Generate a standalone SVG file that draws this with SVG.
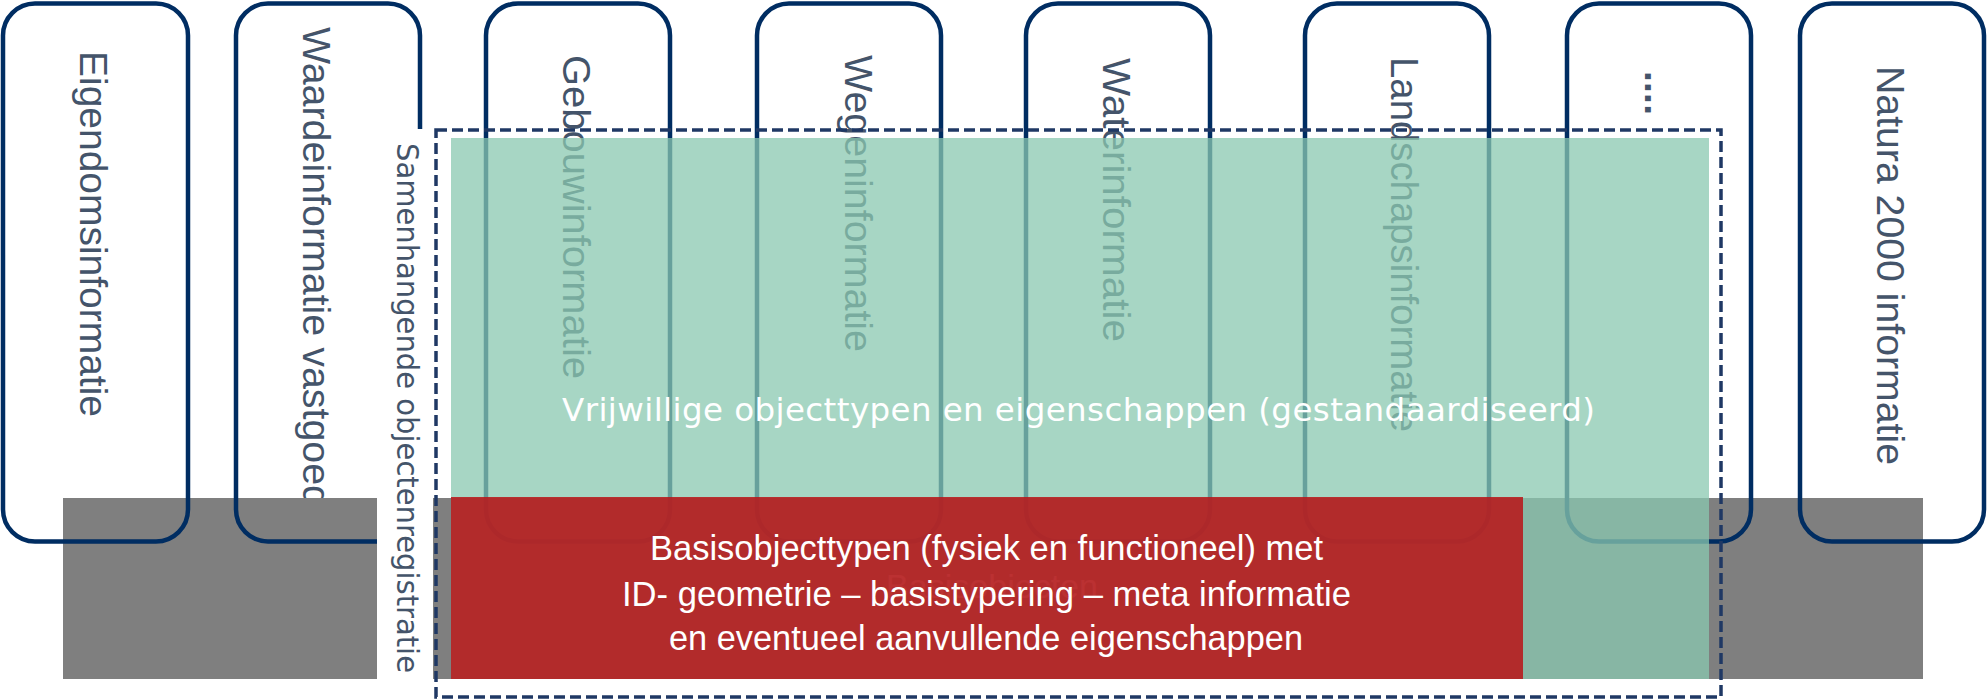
<svg xmlns="http://www.w3.org/2000/svg" width="1987" height="700" viewBox="0 0 1987 700">
  <style>
    .box { fill: none; stroke: #002d62; stroke-width: 4.5; }
    .lbl { font-family: "Liberation Sans", Arial, sans-serif; font-size: 39px; fill: #44546a; }
    .side { font-family: "DejaVu Sans", Verdana, sans-serif; font-size: 29.5px; fill: #44546a; }
    .green-t { font-family: "DejaVu Sans", Verdana, sans-serif; font-size: 32.5px; fill: #ffffff; }
    .red-t { font-family: "Liberation Sans", Arial, sans-serif; font-size: 34.5px; fill: #ffffff; }
    .faint { font-family: "Liberation Sans", Arial, sans-serif; font-size: 33px; fill: #ffffff; fill-opacity: 0.5; }
  </style>
  <defs>
    <clipPath id="clipBox2">
      <rect x="230" y="0" width="200" height="498"/>
    </clipPath>
  </defs>
  <rect width="1987" height="700" fill="#ffffff"/>

  <g id="basis-grey">
    <rect x="63" y="498" width="1860" height="181" fill="#7f7f7f"/>
  </g>

  <g id="node-eigendom">
    <rect class="box" x="3" y="3.5" width="185" height="538" rx="32"/>
    <text class="lbl" transform="translate(80,51) rotate(90)" textLength="366" lengthAdjust="spacingAndGlyphs">Eigendomsinformatie</text>
  </g>
  <g id="node-waarde">
    <rect class="box" x="236" y="3.5" width="184" height="538" rx="32"/>
    <g clip-path="url(#clipBox2)">
      <text class="lbl" transform="translate(303,27) rotate(90)" textLength="480" lengthAdjust="spacingAndGlyphs">Waardeinformatie vastgoed</text>
    </g>
  </g>
  <g id="node-gebouw">
    <rect class="box" x="486" y="3.5" width="184" height="538" rx="32"/>
    <text class="lbl" transform="translate(563,55) rotate(90)" textLength="324" lengthAdjust="spacingAndGlyphs">Gebouwinformatie</text>
  </g>
  <g id="node-wegen">
    <rect class="box" x="757" y="3.5" width="184" height="538" rx="32"/>
    <text class="lbl" transform="translate(845,55) rotate(90)" textLength="297" lengthAdjust="spacingAndGlyphs">Wegeninformatie</text>
  </g>
  <g id="node-water">
    <rect class="box" x="1026" y="3.5" width="184" height="538" rx="32"/>
    <text class="lbl" transform="translate(1103,58) rotate(90)" textLength="284" lengthAdjust="spacingAndGlyphs">Waterinformatie</text>
  </g>
  <g id="node-landschap">
    <rect class="box" x="1305" y="3.5" width="184" height="538" rx="32"/>
    <text class="lbl" transform="translate(1391,57) rotate(90)" textLength="375" lengthAdjust="spacingAndGlyphs">Landschapsinformatie</text>
  </g>
  <g id="node-more">
    <rect class="box" x="1567" y="3.5" width="184" height="538" rx="32"/>
    <text class="lbl" font-weight="bold" transform="translate(1645,71) rotate(90)" textLength="44" lengthAdjust="spacing">....</text>
  </g>
  <g id="node-natura">
    <rect class="box" x="1800" y="3.5" width="184" height="538" rx="32"/>
    <text class="lbl" transform="translate(1877,66) rotate(90)" textLength="399" lengthAdjust="spacingAndGlyphs">Natura 2000 informatie</text>
  </g>

  <g id="label-samenhangend">
    <rect x="377" y="129" width="56" height="571" fill="#ffffff"/>
    <text class="side" transform="translate(397,143) rotate(90)" textLength="530" lengthAdjust="spacingAndGlyphs">Samenhangende objectenregistratie</text>
  </g>

  <g id="layer-vrijwillig">
    <rect x="451" y="138" width="1258" height="541" fill="#89c8b0" fill-opacity="0.75"/>
  </g>

  <g id="layer-basis">
    <text class="faint" x="886" y="598" textLength="212" lengthAdjust="spacingAndGlyphs">Basisobjecten</text>
    <rect x="451" y="497" width="1072" height="182" fill="#ba1316" fill-opacity="0.85"/>
  </g>

  <g id="texts">
    <text class="green-t" x="562" y="421" textLength="1033" lengthAdjust="spacing">Vrijwillige objecttypen en eigenschappen (gestandaardiseerd)</text>
    <text class="red-t" x="650" y="560" textLength="673" lengthAdjust="spacingAndGlyphs">Basisobjecttypen (fysiek en functioneel) met</text>
    <text class="red-t" x="622" y="606" textLength="729" lengthAdjust="spacingAndGlyphs">ID- geometrie – basistypering – meta informatie</text>
    <text class="red-t" x="669" y="650" textLength="634" lengthAdjust="spacingAndGlyphs">en eventueel aanvullende eigenschappen</text>
  </g>

  <g id="frame-samenhangend">
    <rect x="436" y="130" width="1285" height="567" fill="none" stroke="#1f3864" stroke-width="3.5" stroke-dasharray="11 5"/>
  </g>
</svg>
